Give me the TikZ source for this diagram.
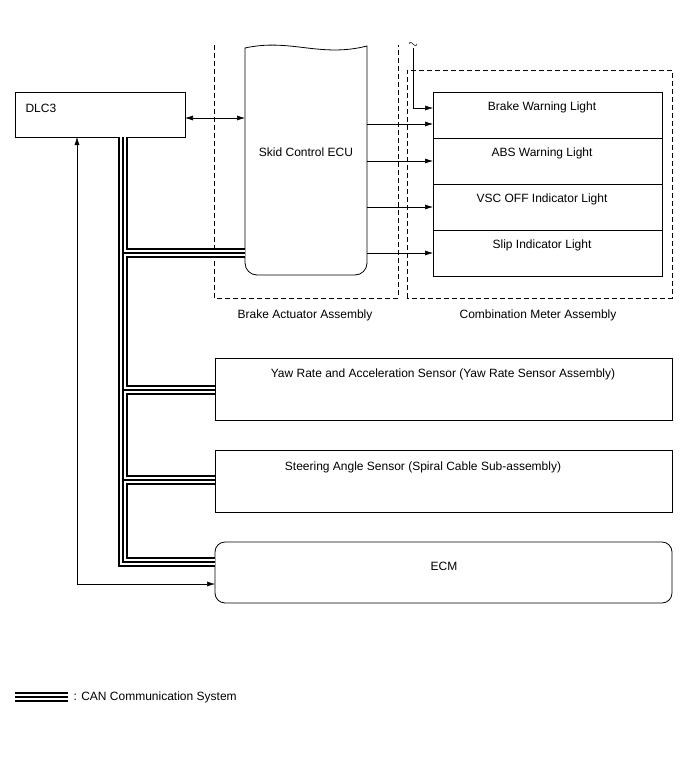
\documentclass[tikz,border=0pt]{standalone}
\usepackage{fontspec}
\setmainfont{Liberation Sans}
\usetikzlibrary{arrows.meta}
\begin{document}
\begin{tikzpicture}[x=1pt,y=-1pt,font=\fontsize{12}{14}\selectfont,
  box/.style={draw,line width=0.8pt},
  asmb/.style={draw,line width=0.8pt,dash pattern=on 5pt off 3pt},
  arr/.style={-{Latex[length=8pt,width=5pt]},line width=0.6pt},
  busA/.style={line width=10pt,black},
  busB/.style={line width=6pt,white},
  busC/.style={line width=1.2pt,black}]
\useasboundingbox (0,0) rectangle (691,757);
% dashed assemblies
\draw[asmb] (214,45) -- (214,298) -- (398,298) -- (398,45);
\draw[asmb] (407,298) -- (407,70) -- (672,70) -- (672,298) -- cycle;
\node (lba) at (305,315) {Brake Actuator Assembly};
\node (lcm) at (538,315) {Combination Meter Assembly};
% DLC3
\draw[box,fill=white] (15,92) rectangle (185,137);
\node[anchor=west] (dlc) at (22,108) {DLC3};
\coordinate (dlcR) at (185,118);
% ECU
\draw[box,fill=white] (245,48) .. controls (290,38) and (320,58) .. (367,46)
  -- (367,263) arc[start angle=0,end angle=90,radius=12] -- (257,275)
  arc[start angle=90,end angle=180,radius=12] -- cycle;
\node (ecu) at (306,152) {Skid Control ECU};
\coordinate (ecuL) at (245,118);
\draw[arr,{Latex[length=8pt,width=5pt]}-{Latex[length=8pt,width=5pt]}] (dlcR) -- (ecuL);
% lights
\foreach \y/\t/\n in {92/Brake Warning Light/l1,138/ABS Warning Light/l2,184/VSC OFF Indicator Light/l3,230/Slip Indicator Light/l4}{
  \draw[box] (433,\y) rectangle (662,\y+46);
  \node (\n) at (542,\y+15) {\t};
}
\draw[box] (433,92) -- (433,276) -- (662,276);
\foreach \y in {124,161,207,253}{\draw[arr] (367,\y) -- (433,\y);}
\draw[line width=0.5pt] (409,44) .. controls (411,38) and (415,50) .. (417,44);
\draw[arr,line width=0.5pt] (413,48) -- (413,108) -- (433,108);
% lower boxes
\draw[box] (215,358) rectangle (672,420);
\node (yaw) at (443,374) {Yaw Rate and Acceleration Sensor (Yaw Rate Sensor Assembly)};
\draw[box] (215,450) rectangle (672,512);
\node (str) at (423,467) {Steering Angle Sensor (Spiral Cable Sub-assembly)};
\draw[box,rounded corners=10pt] (215,542) rectangle (672,603);
\node (ecm) at (444,566) {ECM};
% thin DLC3-ECM
\draw[arr,line width=0.5pt,{Latex[length=8pt,width=5pt]}-{Latex[length=8pt,width=5pt]}] (77,137) -- (77,584) -- (215,584);
% CAN bus
\def\buspath{(123,137) -- (123,562) -- (215,562) (123,253) -- (245,253) (123,390) -- (215,390) (123,480) -- (215,480)}
\draw[busA] \buspath;
\draw[busB] \buspath;
\draw[busC] \buspath;
% legend
\draw[busA] (15,697) -- (68,697);
\draw[busB] (15,697) -- (68,697);
\draw[busC] (15,697) -- (68,697);
\node[anchor=west] (leg) at (70,697) {: CAN Communication System};
\end{tikzpicture}
\end{document}
